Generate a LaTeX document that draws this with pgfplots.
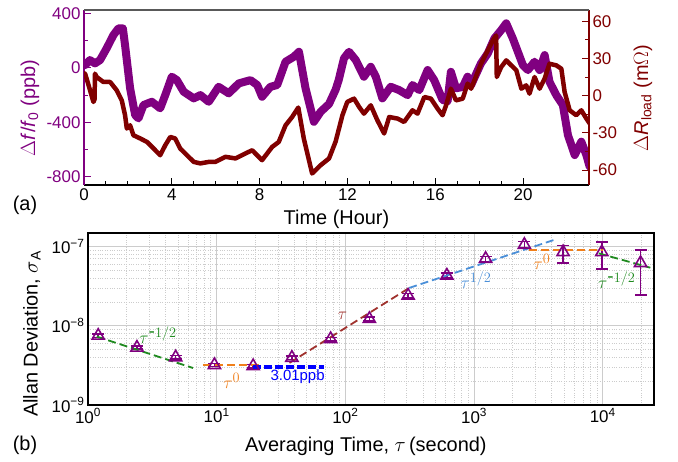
\documentclass[border=0pt]{standalone}
\usepackage{fontspec}
\setmainfont{Liberation Sans}
\usepackage{pgfplots}
\pgfplotsset{compat=1.18}
\usepackage{pgfplotstable}

\definecolor{cpurple}{HTML}{800080}
\definecolor{cred}{HTML}{800000}
\definecolor{cgreen}{HTML}{1F8A1F}
\definecolor{corange}{HTML}{F07F1A}
\definecolor{cbrown}{HTML}{A0322E}
\definecolor{clblue}{HTML}{4A8FD8}
\definecolor{cblue}{HTML}{0000FF}

\newcommand{\tickfont}{\fontsize{17}{20}\selectfont}
\newcommand{\labfont}{\fontsize{20}{24}\selectfont}
\newcommand{\taufont}{\fontsize{19}{22}\selectfont}

% frequency drift (ppb) vs time (hour)
\pgfplotstableread{
t f
0.00 20
0.05 20
0.27 57
0.50 33
0.73 57
1.03 143
1.34 241
1.57 290
1.77 290
1.87 167
2.10 -150
2.33 -346
2.48 -371
2.71 -273
3.09 -249
3.47 -297
3.70 -200
4.00 -65
4.23 -90
4.54 -175
5.00 -224
5.30 -200
5.68 -249
6.13 -139
6.59 -187
7.05 -114
7.58 -90
7.89 -126
8.11 -212
8.49 -139
8.80 -126
9.18 45
9.56 82
9.79 118
10.09 -150
10.47 -396
10.78 -322
11.16 -265
11.46 -160
11.60 -90
11.84 70
12.07 118
12.38 57
12.75 -65
13.06 8
13.29 -65
13.59 -224
13.97 -139
14.35 -163
14.74 -200
14.96 -126
15.27 -163
15.65 -16
15.95 -90
16.33 -235
16.56 -245
16.71 -29
16.94 -150
17.25 -140
17.47 -65
17.63 -126
18.08 33
18.39 106
18.69 216
19.00 277
19.23 327
19.53 216
19.99 20
20.22 -16
20.52 45
20.75 -16
20.98 94
21.20 -102
21.51 -200
21.81 -273
22.04 -493
22.35 -640
22.65 -542
22.88 -640
23.03 -726
}\drift

% load resistance change (mOhm) vs time (hour)
\pgfplotstableread{
t r
0.00 18
0.05 17.7
0.21 8.3
0.43 -5.1
0.48 -3
0.50 17.7
0.58 15
0.88 11
1.19 11
1.49 4.3
1.72 -3.8
1.87 -15.8
1.95 -26.5
2.10 -23.9
2.25 -31.9
2.56 -34.5
2.87 -37.3
3.17 -42.6
3.47 -48
3.70 -40
3.93 -33.3
4.15 -34.5
4.38 -42.6
4.69 -48
5.00 -53.4
5.30 -54.6
5.68 -53.4
5.98 -53.4
6.44 -49.3
6.90 -50.6
7.35 -46.6
7.66 -44
8.11 -52
8.57 -41.3
8.87 -37.3
9.18 -23.9
9.48 -17.2
9.76 -9.6
10.01 -34.5
10.39 -62.7
10.78 -56
11.16 -50.6
11.46 -37
11.77 -15.8
11.99 -5.1
12.30 -2.4
12.53 -9.1
12.75 -14.5
13.06 -7.8
13.36 -19.8
13.67 -30.5
13.90 -17.2
14.28 -18.5
14.58 -21.2
14.96 -11.8
15.19 -14.5
15.50 -1.1
15.80 -2.4
16.10 -10.4
16.33 -15.8
16.49 -7.8
16.71 5.6
16.94 -3.8
17.25 -2.4
17.47 9.7
17.63 5.6
18.08 25.7
18.39 36.4
18.62 44.5
18.77 48.5
18.80 15
19.00 23
19.23 28.4
19.46 24.4
19.69 20.4
19.92 5.6
20.14 8.3
20.29 1.6
20.52 15
20.75 5.6
20.98 13.7
21.20 25.7
21.51 24.4
21.74 21.7
21.89 2.9
22.12 -11.8
22.42 -15.8
22.65 -11.8
22.88 -18.5
23.03 -22.5
}\resist

% Allan deviation
\pgfplotstableread{
tau s ep em
1.2 7.5e-9 0.35e-9 0.35e-9
2.4 5.3e-9 0.25e-9 0.25e-9
4.8 4.0e-9 0.2e-9 0.2e-9
9.6 3.2e-9 0.15e-9 0.15e-9
19.2 3.1e-9 0.15e-9 0.15e-9
38.4 3.95e-9 0.2e-9 0.2e-9
76.8 6.8e-9 0.35e-9 0.35e-9
153.6 1.22e-8 0.07e-8 0.07e-8
307.2 2.4e-8 0.15e-8 0.15e-8
614.4 4.3e-8 0.3e-8 0.3e-8
1228.8 7.0e-8 0.5e-8 0.5e-8
2457.6 1.05e-7 0.1e-7 0.1e-7
4915.2 8.5e-8 1.8e-8 2.3e-8
9830.4 8.5e-8 2.8e-8 3.3e-8
19660.8 6.2e-8 2.9e-8 3.75e-8
}\adev

\begin{document}
\begin{tikzpicture}
\useasboundingbox (0,0) rectangle (678bp,462bp);

% ---------- (a) time traces ----------
\begin{axis}[
  at={(84bp,277bp)}, anchor=south west,
  scale only axis, width=505bp, height=175bp,
  xmin=0, xmax=23, ymin=-860, ymax=425,
  axis x line*=bottom, axis y line*=left,
  x axis line style={-, black, line width=1.3bp},
  y axis line style={-, cpurple, line width=1.3bp},
  xtick={0,4,...,20}, minor x tick num=3,
  ytick={-800,-400,0,400}, minor y tick num=1,
  tick align=inside,
  major tick length=7bp, minor tick length=4bp,
  x tick style={black, line width=1bp},
  y tick style={cpurple, line width=1bp},
  yticklabel style={cpurple},
  ticklabel style={font=\tickfont},
  /pgf/number format/assume math mode=true,
  xlabel={Time (Hour)},
  xlabel style={font=\labfont, at={(rel axis cs:0.5,-0.194)}, anchor=center},
  ylabel={$\Delta$\textit{f}/\textit{f}\textsubscript{0} (ppb)},
  ylabel style={font=\labfont, cpurple, at={(rel axis cs:-0.107,0.44)}, anchor=center},
]
\addplot[cpurple, line width=8bp, line join=round, line cap=round] table[x=t, y=f] {\drift};
\end{axis}

\begin{axis}[
  at={(84bp,277bp)}, anchor=south west,
  scale only axis, width=505bp, height=175bp,
  xmin=0, xmax=23, ymin=-72, ymax=69,
  axis x line=none, axis y line*=right,
  y axis line style={-, cred, line width=1.3bp},
  ytick={-60,-30,...,60}, minor y tick num=1,
  tick align=inside,
  major tick length=7bp, minor tick length=4bp,
  y tick style={cred, line width=1bp},
  yticklabel style={cred, font=\tickfont},
  /pgf/number format/assume math mode=true,
  ylabel={$\Delta$\textit{R}\textsubscript{load} (m$\Omega$)},
  ylabel style={font=\labfont, cred, at={(rel axis cs:1.107,0.497)}, anchor=center},
]
\addplot[cred, line width=4.5bp, line join=round, line cap=round] table[x=t, y=r] {\resist};
\end{axis}
\draw[line width=1.6bp, gray!70!black] (84bp,452bp) -- (589bp,452bp);
\node[font=\labfont] at (25bp,257bp) {(a)};

% ---------- (b) Allan deviation ----------
\begin{axis}[
  at={(88bp,57bp)}, anchor=south west,
  scale only axis, width=566bp, height=172bp,
  xmode=log, ymode=log,
  xmin=1, xmax=2.5e4, ymin=1e-9, ymax=1.48e-7,
  axis line style={line width=1.3bp},
  grid=both,
  major grid style={gray!40, line width=0.8bp},
  minor grid style={gray!40, dotted, line width=0.7bp},
  xtick={1,10,100,1000,10000},
  xticklabels={10\textsuperscript{0},10\textsuperscript{1},10\textsuperscript{2},10\textsuperscript{3},10\textsuperscript{4}},
  minor xtick={2,3,4,5,6,7,8,9,20,30,40,50,60,70,80,90,200,300,400,500,600,700,800,900,2000,3000,4000,5000,6000,7000,8000,9000,20000},
  ytick={1e-9,1e-8,1e-7},
  yticklabels={10\textsuperscript{−9},10\textsuperscript{−8},10\textsuperscript{−7}},
  minor ytick={2e-9,3e-9,4e-9,5e-9,6e-9,7e-9,8e-9,9e-9,2e-8,3e-8,4e-8,5e-8,6e-8,7e-8,8e-8,9e-8},
  tick style={draw=none},
  ticklabel style={font=\tickfont},
  xlabel={Averaging Time, $\tau$\,(second)},
  xlabel style={font=\labfont, at={(rel axis cs:0.491,-0.238)}, anchor=center},
  ylabel={Allan Deviation, $\sigma$\textsubscript{A}},
  ylabel style={font=\labfont, at={(rel axis cs:-0.099,0.413)}, anchor=center},
  clip=false,
  fit/.style={dash pattern=on 8bp off 4bp, line width=1.8bp},
]
\addplot[only marks, mark=triangle, mark size=7bp, cpurple, line width=1.6bp,
  error bars/.cd, y dir=both, y explicit,
  error bar style={line width=1.6bp, cpurple},
  error mark options={line width=1.6bp, mark size=6bp, rotate=90}]
  table[x=tau, y=s, y error plus=ep, y error minus=em] {\adev};

\addplot[cgreen, fit] coordinates {(1.17,7.3e-9) (6.55,2.93e-9)};
\addplot[corange, fit] coordinates {(7.8,3.22e-9) (22.6,3.22e-9)};
\addplot[cblue, dash pattern=on 8bp off 3bp, line width=3.5bp] coordinates {(19,3.01e-9) (68.6,3.01e-9)};
\addplot[cbrown, fit] coordinates {(36.8,3.4e-9) (313,3.0e-8)};
\addplot[clblue, fit] coordinates {(313,3.0e-8) (4170,1.21e-7)};
\addplot[corange, fit] coordinates {(2670,9.1e-8) (10000,9.1e-8)};
\addplot[cgreen, fit] coordinates {(9300,8.2e-8) (23400,5.4e-8)};

\node[cgreen, font=\taufont] at (axis cs:3.5,7.7e-9) {$\tau^{\textrm{-}1/2}$};
\node[corange, font=\taufont] at (axis cs:13.1,2.02e-9) {$\tau^{0}$};
\node[cblue, font=\fontsize{15}{18}\selectfont] at (axis cs:42.5,2.27e-9) {3.01ppb};
\node[cbrown, font=\taufont] at (axis cs:94.8,1.34e-8) {$\tau$};
\node[clblue, font=\taufont] at (axis cs:1037,3.8e-8) {$\tau^{1/2}$};
\node[corange, font=\taufont] at (axis cs:3365,6.4e-8) {$\tau^{0}$};
\node[cgreen, font=\taufont] at (axis cs:12850,3.8e-8) {$\tau^{\textrm{-}1/2}$};
\end{axis}
\node[font=\labfont] at (25bp,17bp) {(b)};
\end{tikzpicture}
\end{document}
